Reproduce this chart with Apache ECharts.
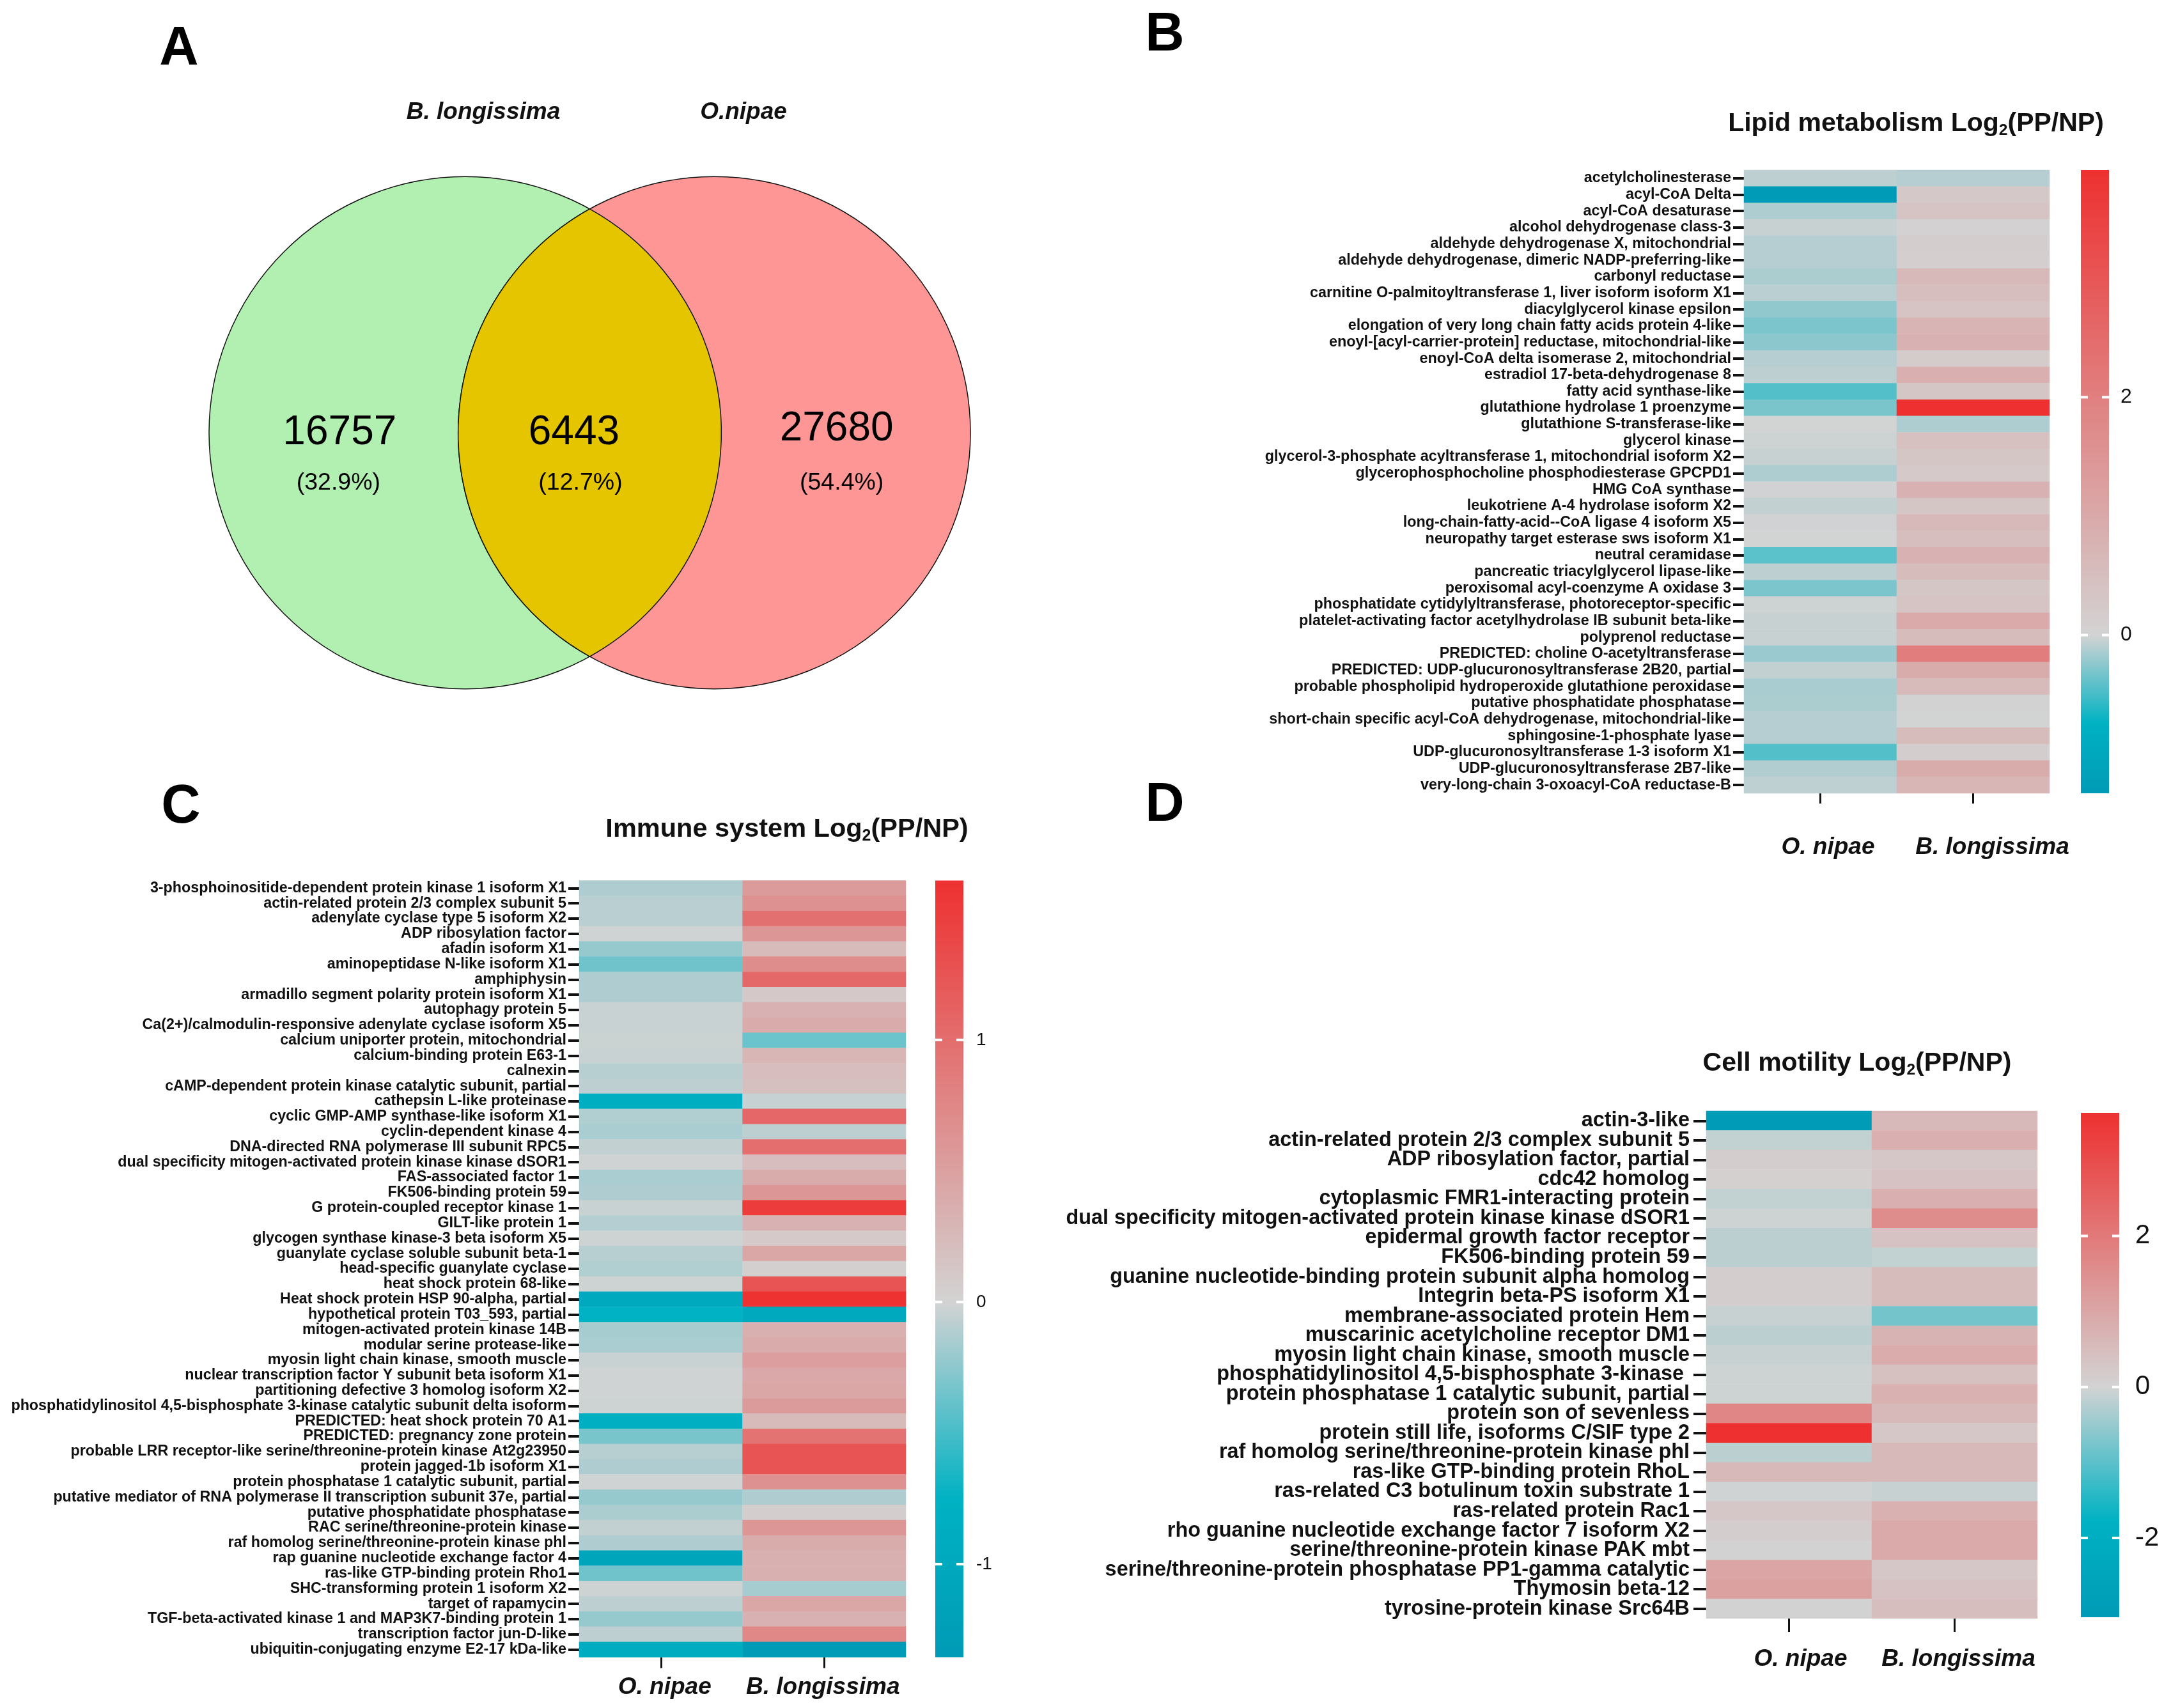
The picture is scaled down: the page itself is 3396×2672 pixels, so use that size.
<!DOCTYPE html>
<html><head><meta charset="utf-8">
<style>html,body{margin:0;padding:0;background:#fff}#c{width:3396px;height:2672px}</style>
<script src="https://cdn.jsdelivr.net/npm/echarts@6/dist/echarts.min.js"></script>
</head><body><div id="c"></div>
<script>
const FONT = '"Liberation Sans", Arial, sans-serif';
const species = ['O. nipae', 'B. longissima'];

// Panel A
const vennSets = ['B. longissima', 'O.nipae'];
const vennCounts = ['16757', '6443', '27680'];
const vennPercents = ['(32.9%)', '(12.7%)', '(54.4%)'];

// Panel B
const lipidLabels = ['acetylcholinesterase','acyl-CoA Delta','acyl-CoA desaturase','alcohol dehydrogenase class-3','aldehyde dehydrogenase X, mitochondrial','aldehyde dehydrogenase, dimeric NADP-preferring-like','carbonyl reductase','carnitine O-palmitoyltransferase 1, liver isoform isoform X1','diacylglycerol kinase epsilon','elongation of very long chain fatty acids protein 4-like','enoyl-[acyl-carrier-protein] reductase, mitochondrial-like','enoyl-CoA delta isomerase 2, mitochondrial','estradiol 17-beta-dehydrogenase 8','fatty acid synthase-like','glutathione hydrolase 1 proenzyme','glutathione S-transferase-like','glycerol kinase','glycerol-3-phosphate acyltransferase 1, mitochondrial isoform X2','glycerophosphocholine phosphodiesterase GPCPD1','HMG CoA synthase','leukotriene A-4 hydrolase isoform X2','long-chain-fatty-acid--CoA ligase 4 isoform X5','neuropathy target esterase sws isoform X1','neutral ceramidase','pancreatic triacylglycerol lipase-like','peroxisomal acyl-coenzyme A oxidase 3','phosphatidate cytidylyltransferase, photoreceptor-specific','platelet-activating factor acetylhydrolase IB subunit beta-like','polyprenol reductase','PREDICTED: choline O-acetyltransferase','PREDICTED: UDP-glucuronosyltransferase 2B20, partial','probable phospholipid hydroperoxide glutathione peroxidase','putative phosphatidate phosphatase','short-chain specific acyl-CoA dehydrogenase, mitochondrial-like','sphingosine-1-phosphate lyase','UDP-glucuronosyltransferase 1-3 isoform X1','UDP-glucuronosyltransferase 2B7-like','very-long-chain 3-oxoacyl-CoA reductase-B'];
const lipidNipae = [-0.08,-1.33,-0.13,-0.04,-0.1,-0.1,-0.14,-0.09,-0.23,-0.3,-0.25,-0.1,-0.08,-0.45,-0.31,0,-0.02,-0.04,-0.13,-0.01,-0.06,-0.01,0,-0.42,-0.08,-0.3,-0.02,-0.04,-0.04,-0.2,-0.06,-0.15,-0.14,-0.1,-0.1,-0.45,-0.12,-0.07];
const lipidLongissima = [-0.1,0.26,0.38,0.05,0.14,0.12,0.62,0.5,0.4,0.74,0.78,0.2,0.86,0.3,3.91,-0.13,0.45,0.3,0.25,0.78,0.3,0.62,0.5,0.78,0.55,0.3,0.38,1.0,0.55,2.05,0.95,0.6,0.02,0,0.55,0.15,0.95,0.7];

// Panel C
const immuneLabels = ['3-phosphoinositide-dependent protein kinase 1 isoform X1','actin-related protein 2/3 complex subunit 5','adenylate cyclase type 5 isoform X2','ADP ribosylation factor','afadin isoform X1','aminopeptidase N-like isoform X1','amphiphysin','armadillo segment polarity protein isoform X1','autophagy protein 5','Ca(2+)/calmodulin-responsive adenylate cyclase isoform X5','calcium uniporter protein, mitochondrial','calcium-binding protein E63-1','calnexin','cAMP-dependent protein kinase catalytic subunit, partial','cathepsin L-like proteinase','cyclic GMP-AMP synthase-like isoform X1','cyclin-dependent kinase 4','DNA-directed RNA polymerase III subunit RPC5','dual specificity mitogen-activated protein kinase kinase dSOR1','FAS-associated factor 1','FK506-binding protein 59','G protein-coupled receptor kinase 1','GILT-like protein 1','glycogen synthase kinase-3 beta isoform X5','guanylate cyclase soluble subunit beta-1','head-specific guanylate cyclase','heat shock protein 68-like','Heat shock protein HSP 90-alpha, partial','hypothetical protein T03_593, partial','mitogen-activated protein kinase 14B','modular serine protease-like','myosin light chain kinase, smooth muscle','nuclear transcription factor Y subunit beta isoform X1','partitioning defective 3 homolog isoform X2','phosphatidylinositol 4,5-bisphosphate 3-kinase catalytic subunit delta isoform','PREDICTED: heat shock protein 70 A1','PREDICTED: pregnancy zone protein','probable LRR receptor-like serine/threonine-protein kinase At2g23950','protein jagged-1b isoform X1','protein phosphatase 1 catalytic subunit, partial','putative mediator of RNA polymerase II transcription subunit 37e, partial','putative phosphatidate phosphatase','RAC serine/threonine-protein kinase','raf homolog serine/threonine-protein kinase phl','rap guanine nucleotide exchange factor 4','ras-like GTP-binding protein Rho1','SHC-transforming protein 1 isoform X2','target of rapamycin','TGF-beta-activated kinase 1 and MAP3K7-binding protein 1','transcription factor jun-D-like','ubiquitin-conjugating enzyme E2-17 kDa-like'];
const immuneNipae = [-0.13,-0.09,-0.09,-0.01,-0.22,-0.35,-0.13,-0.13,-0.04,-0.04,-0.03,-0.04,-0.1,-0.08,-0.85,-0.12,-0.15,-0.06,-0.01,-0.15,-0.13,-0.04,-0.11,-0.02,-0.1,-0.12,-0.02,-1.0,-0.75,-0.16,-0.15,-0.04,-0.01,-0.01,-0.02,-0.8,-0.32,-0.1,-0.13,-0.01,-0.22,-0.14,-0.06,-0.13,-1.1,-0.35,-0.02,-0.08,-0.22,-0.08,-0.9];
const immuneLongissima = [0.55,0.65,0.98,0.6,0.25,0.7,1.05,0.11,0.33,0.4,-0.37,0.29,0.21,0.2,-0.05,1.07,-0.08,1.0,0.21,0.38,0.6,1.49,0.33,0.1,0.45,0.04,1.25,1.6,-1.0,0.35,0.4,0.52,0.42,0.45,0.55,0.25,0.95,1.25,1.25,0.65,-0.13,0.06,0.6,0.38,0.35,0.35,-0.16,0.45,0.33,0.75,-1.35];

// Panel D
const motilityLabels = ['actin-3-like','actin-related protein 2/3 complex subunit 5','ADP ribosylation factor, partial','cdc42 homolog','cytoplasmic FMR1-interacting protein','dual specificity mitogen-activated protein kinase kinase dSOR1','epidermal growth factor receptor','FK506-binding protein 59','guanine nucleotide-binding protein subunit alpha homolog','Integrin beta-PS isoform X1','membrane-associated protein Hem','muscarinic acetylcholine receptor DM1','myosin light chain kinase, smooth muscle','phosphatidylinositol 4,5-bisphosphate 3-kinase ','protein phosphatase 1 catalytic subunit, partial','protein son of sevenless','protein still life, isoforms C/SIF type 2','raf homolog serine/threonine-protein kinase phl','ras-like GTP-binding protein RhoL','ras-related C3 botulinum toxin substrate 1','ras-related protein Rac1','rho guanine nucleotide exchange factor 7 isoform X2','serine/threonine-protein kinase PAK mbt','serine/threonine-protein phosphatase PP1-gamma catalytic','Thymosin beta-12','tyrosine-protein kinase Src64B'];
const motilityNipae = [-3.05,-0.14,0.13,0.08,-0.14,-0.05,-0.2,-0.2,0.13,0.13,-0.1,-0.2,-0.1,-0.05,-0.05,1.7,3.63,-0.2,0.58,-0.03,0.25,0.13,0,1.02,1.13,0];
const motilityLongissima = [0.58,0.8,0.25,0.36,0.8,1.58,0.36,-0.14,0.5,0.5,-0.8,0.7,0.87,0.42,0.75,0.58,0.25,0.58,0.58,-0.1,0.75,0.9,0.9,0.25,0.36,0.47];

const stopColors = { low:[0,155,182], mid:[0,178,195], zero:[211,211,211], high:[238,48,48] };
function rgb(c){return 'rgb('+c.map(Math.round).join(',')+')';}
function colorAt(v,s){
  const seq=[[s.min,stopColors.low],[s.knot,stopColors.mid],[0,stopColors.zero],[s.max,stopColors.high]];
  for(let i=0;i<3;i++){ if(v<=seq[i+1][0]){ const t=(v-seq[i][0])/(seq[i+1][0]-seq[i][0]);
    return seq[i][1].map((a,k)=>a+(seq[i+1][1][k]-a)*t);} }
  return stopColors.high;
}
function rampColors(s){const out=[];for(let i=0;i<=240;i++){out.push(rgb(colorAt(s.min+(s.max-s.min)*i/240,s)));}return out;}

const panels = [
 {title:'Lipid metabolism Log', tx:2997, ty:194, tfs:41, labels:lipidLabels, a:lipidNipae, b:lipidLongissima,
  left:2728, top:266, w:478, h:975, fs:23.4, tick:17, tickW:4, labelGap:3, xTick:16, xMargin:66, xShift:[12,30],
  bar:{left:3255, top:266, w:44, h:975}, scale:{min:-1.33,knot:-0.74,max:3.91}, ticks:[0,2], tickFs:32, barMargin:18},
 {title:'Immune system Log', tx:1231, ty:1298, tfs:41.5, labels:immuneLabels, a:immuneNipae, b:immuneLongissima,
  left:906, top:1377.5, w:511, h:1215, fs:23.3, tick:17, tickW:4, labelGap:3, xTick:17, xMargin:29, xShift:[6,-2],
  bar:{left:1463, top:1377.5, w:44, h:1215}, scale:{min:-1.355,knot:-0.75,max:1.608}, ticks:[-1,0,1], tickFs:28, barMargin:20},
 {title:'Cell motility Log', tx:2905, ty:1664, tfs:41, labels:motilityLabels, a:motilityNipae, b:motilityLongissima,
  left:2669, top:1738, w:518, h:794, fs:32.4, tick:20, tickW:4, labelGap:6, xTick:21, xMargin:45, xShift:[18,6],
  bar:{left:3255, top:1741, w:60, h:789}, scale:{min:-3.05,knot:-1.77,max:3.63}, ticks:[-2,0,2], tickFs:42, barMargin:25}
];

const titles=[], grids=[], xAxes=[], yAxes=[], series=[], visualMaps=[];
function letter(t,x,y){titles.push({text:t,left:x,top:y,padding:0,textAlign:'center',textVerticalAlign:'middle',textStyle:{fontFamily:FONT,fontSize:85,fontWeight:'bold',color:'#000'}});}
letter('A',280,78); letter('B',1822,56); letter('C',283,1264); letter('D',1822,1261);

// Venn, in units of one circle radius
const vennCenters=[0,0.9725];
const vennCountAt=[[-0.49,0],[0.425,0],[1.45,-0.015]];
const vennPercentAt=[[-0.495,0.195],[0.45,0.195],[1.47,0.195]];
grids.push({left:327,top:275,width:1191,height:804});
xAxes.push({type:'value',gridIndex:0,min:-1,max:1.9725,show:false});
yAxes.push({type:'value',gridIndex:0,min:-1,max:1,inverse:true,show:false});
series.push({type:'custom',xAxisIndex:0,yAxisIndex:0,coordinateSystem:'cartesian2d',silent:true,
  data:[[vennCenters[0],vennCenters[1]]],
  renderItem(p,api){
    const c1=api.coord([api.value(0),0]), c2=api.coord([api.value(1),0]);
    const r=api.size([1,0])[0], a=(c2[0]-c1[0])/2, h=Math.sqrt(r*r-a*a), mx=(c1[0]+c2[0])/2, y=c1[1];
    const line={stroke:'#111',lineWidth:1.5};
    return {type:'group',children:[
      {type:'circle',shape:{cx:c1[0],cy:y,r},style:Object.assign({fill:'#B2F0B2'},line)},
      {type:'circle',shape:{cx:c2[0],cy:y,r},style:Object.assign({fill:'#FF9696'},line)},
      {type:'path',shape:{pathData:`M${mx} ${y-h}A${r} ${r} 0 0 1 ${mx} ${y+h}A${r} ${r} 0 0 1 ${mx} ${y-h}Z`},style:Object.assign({fill:'#E5C400'},line)}
    ]};
  }});
function vennText(texts,pos,size){
  series.push({type:'custom',xAxisIndex:0,yAxisIndex:0,coordinateSystem:'cartesian2d',silent:true,z:5,
    data:texts.map((t,i)=>[pos[i][0],pos[i][1],t]),
    renderItem(p,api){const c=api.coord([api.value(0),api.value(1)]);
      return {type:'text',x:c[0],y:c[1],style:{text:texts[p.dataIndex],textAlign:'center',textVerticalAlign:'middle',fontFamily:FONT,fontSize:size,fill:'#000'}};}});
}
vennText(vennCounts,vennCountAt,64);
vennText(vennPercents,vennPercentAt,37.5);
titles.push({text:vennSets[0],left:756,top:176,padding:0,textAlign:'center',textVerticalAlign:'middle',textStyle:{fontFamily:FONT,fontSize:37,fontWeight:'bold',fontStyle:'italic',color:'#111'}});
titles.push({text:vennSets[1],left:1163,top:176,padding:0,textAlign:'center',textVerticalAlign:'middle',textStyle:{fontFamily:FONT,fontSize:37,fontWeight:'bold',fontStyle:'italic',color:'#111'}});

panels.forEach(P=>{
  titles.push({text:`{a|${P.title}}{s|2}{a|(PP/NP)}`,left:P.tx,top:P.ty,padding:0,textAlign:'center',textVerticalAlign:'middle',
    textStyle:{rich:{a:{fontFamily:FONT,fontSize:P.tfs,fontWeight:'bold',color:'#111'},s:{fontFamily:FONT,fontSize:P.tfs*0.6,fontWeight:'bold',color:'#111',padding:[P.tfs*0.5,0,0,0]}}}});
  // heatmap grid
  const g=grids.length;
  grids.push({left:P.left,top:P.top,width:P.w,height:P.h});
  const rich={};
  P.xShift.forEach((s,i)=>{rich['s'+i]={fontFamily:FONT,fontSize:37,fontWeight:'bold',fontStyle:'italic',color:'#111',padding:s>=0?[0,0,0,2*s]:[0,-2*s,0,0]};});
  xAxes.push({type:'category',gridIndex:g,data:species,position:'bottom',axisLine:{show:false},
    axisTick:{show:true,alignWithLabel:true,length:P.xTick,lineStyle:{color:'#111',width:3}},
    axisLabel:{margin:P.xMargin,interval:0,formatter:(v,i)=>`{s${i}|${v}}`,rich}});
  yAxes.push({type:'category',gridIndex:g,data:P.labels,inverse:true,axisLine:{show:false},
    axisTick:{show:true,alignWithLabel:true,length:P.tick,lineStyle:{color:'#111',width:P.tickW}},
    axisLabel:{interval:0,margin:P.tick+P.labelGap,padding:[3,0,0,0],fontFamily:FONT,fontSize:P.fs,fontWeight:'bold',color:'#111'}});
  const idx=series.length;
  const data=[];
  P.a.forEach((v,i)=>data.push([0,i,v]));
  P.b.forEach((v,i)=>data.push([1,i,v]));
  series.push({type:'heatmap',xAxisIndex:xAxes.length-1,yAxisIndex:yAxes.length-1,data,itemStyle:{borderWidth:0},progressive:0,emphasis:{disabled:true}});
  visualMaps.push({type:'continuous',show:false,seriesIndex:idx,dimension:2,min:P.scale.min,max:P.scale.max,inRange:{color:rampColors(P.scale)}});
  // colour bar
  const gb=grids.length;
  grids.push({left:P.bar.left,top:P.bar.top,width:P.bar.w,height:P.bar.h});
  xAxes.push({type:'value',gridIndex:gb,min:0,max:1,show:false});
  yAxes.push({type:'value',gridIndex:gb,min:P.scale.min,max:P.scale.max,position:'right',splitLine:{show:false},axisLine:{show:false},axisTick:{show:false},
    axisLabel:{customValues:P.ticks,margin:P.barMargin,fontFamily:FONT,fontSize:P.tickFs,color:'#111'}});
  const s=P.scale, span=s.max-s.min;
  const stops=[[s.max,stopColors.high],[0,stopColors.zero],[s.knot,stopColors.mid],[s.min,stopColors.low]]
     .map(d=>({offset:(s.max-d[0])/span,color:rgb(d[1])}));
  const barTicks=P.ticks;
  series.push({type:'custom',xAxisIndex:xAxes.length-1,yAxisIndex:yAxes.length-1,coordinateSystem:'cartesian2d',silent:true,
    data:[[s.min,s.max]],
    renderItem(p,api){
      const a=api.coord([0,api.value(1)]), b=api.coord([1,api.value(0)]), W=b[0]-a[0], L=11, T=4;
      const kids=[{type:'rect',shape:{x:a[0],y:a[1],width:W,height:b[1]-a[1]},
        style:{fill:new echarts.graphic.LinearGradient(0,0,0,1,stops)}}];
      barTicks.forEach(t=>{const y=api.coord([0,t])[1];
        kids.push({type:'rect',shape:{x:a[0],y:y-T/2,width:L,height:T},style:{fill:'#fff'}});
        kids.push({type:'rect',shape:{x:b[0]-L,y:y-T/2,width:L,height:T},style:{fill:'#fff'}});});
      return {type:'group',children:kids};
    }});
});

const chart=echarts.init(document.getElementById('c'),null,{renderer:'canvas',width:3396,height:2672});
chart.setOption({animation:false,backgroundColor:'#fff',title:titles,grid:grids,xAxis:xAxes,yAxis:yAxes,visualMap:visualMaps,series,tooltip:{show:false}});
</script></body></html>
